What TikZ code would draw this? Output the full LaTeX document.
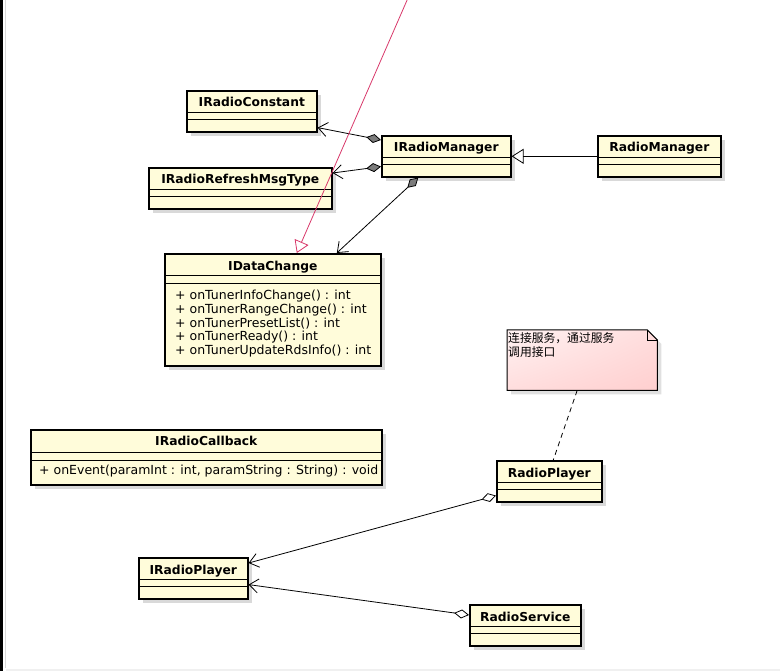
\documentclass[tikz,border=0pt]{standalone}
\usepackage{fontspec}
\setmainfont{DejaVu Sans}
\newfontfamily\cjk{Noto Sans CJK SC}
\usetikzlibrary{arrows.meta, calc, shadows, shadings}
\definecolor{clsfill}{HTML}{FFFCDA}
\definecolor{notepink}{HTML}{FFCFCF}
\definecolor{realred}{HTML}{D8386A}
\definecolor{diagrey}{HTML}{7C7C7C}

\tikzset{
  classbox/.style={draw=black, line width=1.6pt, fill=clsfill, inner sep=0pt,
    anchor=north west,
    drop shadow={shadow xshift=4pt, shadow yshift=-4pt, fill=black!15, opacity=1}},
  classname/.style={font=\bfseries\fontsize{12.3}{14}\selectfont, inner sep=0pt, anchor=base},
  optext/.style={font=\fontsize{12.5}{13.7}\selectfont, align=left, inner sep=0pt},
  sepline/.style={line width=0.9pt},
  compo/.style={line width=0.8pt,
    {Straight Barb[length=9pt, width=14pt]}-{Diamond[length=15pt, width=9pt, fill=diagrey]}},
  aggreg/.style={line width=0.8pt,
    {Straight Barb[length=9pt, width=14pt]}-{Diamond[open, length=15pt, width=9pt]}},
  realize/.style={line width=0.8pt, -{Triangle[open, length=12pt, width=15pt]}},
}

\begin{document}
\begin{tikzpicture}[x=1pt, y=-1pt]
\useasboundingbox (0,0) rectangle (780,671);

% Window edge
\draw[black, line width=3pt] (1.5,0) -- (1.5,671);
\draw[black!15, line width=1pt] (5.5,0) -- (5.5,668);
\draw[black!6, line width=2pt] (6,670) -- (780,670);

% --- Simple classes (empty compartments) ---
\foreach \n/\x/\y/\w/\t in {const/186/90/130/IRadioConstant,
    refresh/148/167/183/IRadioRefreshMsgType,
    mgr/381/135/129/IRadioManager,
    rmgr/597/135/123/RadioManager,
    rplayer/496/460/105/RadioPlayer,
    iplayer/138/557/109/IRadioPlayer,
    rservice/469/604/111/RadioService} {
  \node[classbox, minimum width=\w pt, minimum height=41pt] (\n) at (\x,\y) {};
  \node[classname] (\n-name) at ($(\n.north)+(0,17)$) {\t};
  \draw[sepline] ([yshift=-22pt]\n.north west) -- ([yshift=-22pt]\n.north east);
  \draw[sepline] ([yshift=-29pt]\n.north west) -- ([yshift=-29pt]\n.north east);
}

% --- IDataChange ---
\node[classbox, minimum width=216pt, minimum height=112pt] (idc) at (164,253) {};
\node[classname] (idc-name) at ($(idc.north)+(0,18)$) {IDataChange};
\draw[sepline] ([yshift=-22pt]idc.north west) -- ([yshift=-22pt]idc.north east);
\draw[sepline] ([yshift=-30pt]idc.north west) -- ([yshift=-30pt]idc.north east);
\node[optext, anchor=north west] (idc-ops) at (175,290)
  {+ onTunerInfoChange() : int\\
   + onTunerRangeChange() : int\\
   + onTunerPresetList() : int\\
   + onTunerReady() : int\\
   + onTunerUpdateRdsInfo() : int};

% --- IRadioCallback ---
\node[classbox, minimum width=351pt, minimum height=55pt] (cb) at (30,429) {};
\node[classname] (cb-name) at ($(cb.north)+(0,17)$) {IRadioCallback};
\draw[sepline] ([yshift=-23pt]cb.north west) -- ([yshift=-23pt]cb.north east);
\draw[sepline] ([yshift=-31pt]cb.north west) -- ([yshift=-31pt]cb.north east);
\node[optext, anchor=base west] (cb-ops) at (39,474)
  {+ onEvent(paramInt : int, paramString : String) : void};

% --- Note ---
\node[minimum width=150pt, minimum height=60pt, inner sep=0pt, anchor=north west]
  (note) at (507,330) {};
\shade[upper left=notepink!25, lower right=notepink, upper right=notepink!70,
  lower left=notepink!70, draw=black, line width=1pt,
  drop shadow={shadow xshift=4pt, shadow yshift=-4pt, fill=black!12, opacity=1}]
  (note.north west) -- ([xshift=-10pt]note.north east) -- ([yshift=-10pt]note.north east)
  -- (note.south east) -- (note.south west) -- cycle;
\draw[line width=0.7pt] ([xshift=-10pt]note.north east) -- ([xshift=-10pt,yshift=-10pt]note.north east)
  -- ([yshift=-10pt]note.north east);
\node[font=\cjk\fontsize{11.8}{14.5}\selectfont, align=left, inner sep=0pt, anchor=north west]
  (note-text) at (508,332) {连接服务，通过服务\\调用接口};

% --- Connectors ---
\draw[compo] ([yshift=5pt]const.south east) -- ([yshift=-5pt]mgr.north west);
\draw[compo] ([yshift=-6pt]refresh.north east) -- ([yshift=11pt]mgr.south west);
\draw[compo] ([xshift=64pt]idc.north) -- ([xshift=-28pt]mgr.south);
\draw[realize] (rmgr.west) -- (mgr.east);

\coordinate (redsrc) at (408,-2);
\draw[realize, realred] (redsrc) -- ([xshift=24pt]idc.north);

\draw[line width=0.8pt, dash pattern=on 5pt off 4pt] ([xshift=-5pt]note.south)
  -- ([xshift=4pt]rplayer.north);

\draw[aggreg] ([yshift=-6pt]iplayer.north east) -- ([yshift=7pt]rplayer.south west);
\draw[aggreg] ([yshift=15pt]iplayer.south east) -- ([yshift=-11pt]rservice.north west);

\end{tikzpicture}
\end{document}
